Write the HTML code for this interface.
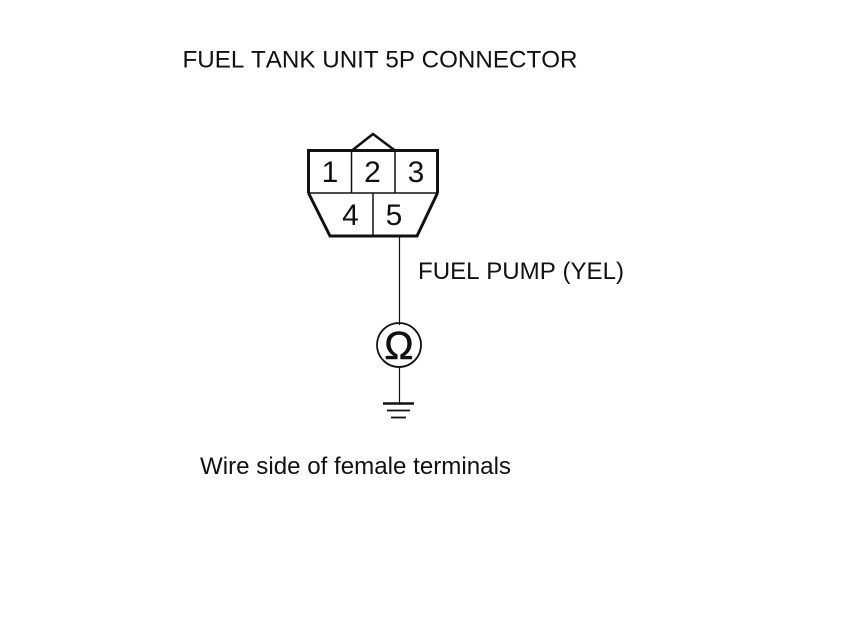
<!DOCTYPE html>
<html>
<head>
<meta charset="utf-8">
<style>
html,body{margin:0;padding:0;background:#fff;width:860px;height:630px;overflow:hidden}
svg{display:block}
text{font-family:"Liberation Sans",Arial,sans-serif;fill:#111;font-kerning:none}
</style>
</head>
<body>
<svg width="860" height="630" viewBox="0 0 860 630" xmlns="http://www.w3.org/2000/svg">
<rect width="860" height="630" fill="#fff"/>
<text x="182.500" y="67.500" font-size="24" textLength="395" lengthAdjust="spacingAndGlyphs">FUEL TANK UNIT 5P CONNECTOR</text>
<g fill="none" stroke="#111" stroke-linecap="butt" stroke-linejoin="miter">
  <path d="M308.500 193 V150.500 H437.500 V193" stroke-width="3"/>
  <path d="M308.500 193 L330 236 H417 L437.500 193" stroke-width="3"/>
  <path d="M352 150.500 L373 134 L395 150.500" stroke-width="2.500"/>
  <path d="M308 193 H438" stroke-width="1.500"/>
  <path d="M351.500 150 V193 M395 150 V193 M373 193 V236" stroke-width="1.500"/>
  <path d="M399.500 236 V325 M399.500 367 V403" stroke-width="1.200"/>
  <circle cx="399" cy="345" r="22" stroke-width="1.800"/>
  <path d="M383 403.500 H414" stroke-width="2.500"/>
  <path d="M387 410.500 H410" stroke-width="1.800"/>
  <path d="M391 417.500 H406" stroke-width="1.800"/>
</g>
<g font-size="30" text-anchor="middle">
  <text x="330" y="182">1</text>
  <text x="372.500" y="182">2</text>
  <text x="416" y="182">3</text>
  <text x="350.500" y="225">4</text>
  <text x="394" y="225">5</text>
</g>
<text x="418" y="279" font-size="24" textLength="206" lengthAdjust="spacingAndGlyphs">FUEL PUMP (YEL)</text>
<text x="399" y="359" font-size="39" text-anchor="middle" stroke="#111" stroke-width="0.6">Ω</text>
<text x="200" y="474" font-size="24" textLength="311" lengthAdjust="spacingAndGlyphs">Wire side of female terminals</text>
</svg>
</body>
</html>
